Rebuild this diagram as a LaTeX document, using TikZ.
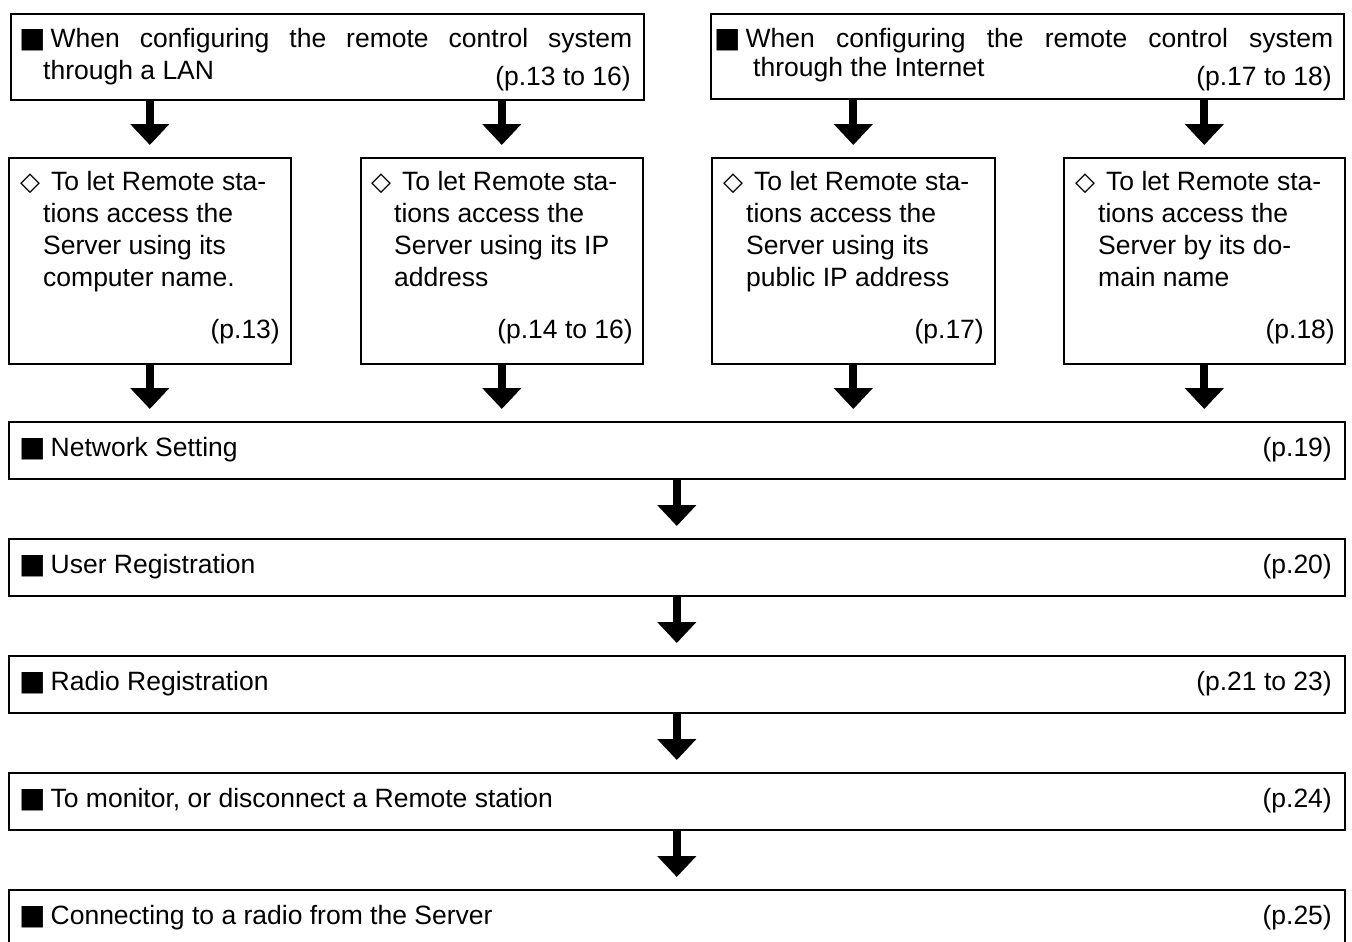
\documentclass[tikz,border=0pt]{standalone}
\usepackage{fontspec}
\setmainfont{Liberation Sans}
\newfontfamily\symf{DejaVu Sans}
\usetikzlibrary{arrows.meta}
\newcommand{\bsq}{{\symf\fontsize{28pt}{28pt}\selectfont ■}}
\newcommand{\wdia}{{\symf\bfseries\fontsize{26pt}{26pt}\selectfont ◇}}
\begin{document}
\begin{tikzpicture}[x=1pt,y=-1pt,
 box/.style={draw, line width=1.6pt, inner sep=0pt, anchor=north west},
 txt/.style={anchor=base west, inner sep=0pt, font=\fontsize{26.5pt}{32pt}\selectfont, align=left},
 pg/.style={anchor=base east, inner sep=0pt, font=\fontsize{26.5pt}{32pt}\selectfont},
 bigarrow/.style={line width=8pt, -{Triangle[width=38pt,length=21pt]}, shorten >=12pt}]
\useasboundingbox (0,0) rectangle (1352,942);
% top boxes
\node[box, minimum width=633pt, minimum height=86pt] (t1) at (10,13) {};
\node[box, minimum width=633pt, minimum height=85pt] (t2) at (710,13) {};
% second row
\node[box, minimum width=282pt, minimum height=206pt] (b1) at (8,157) {};
\node[box, minimum width=282pt, minimum height=206pt] (b2) at (360,157) {};
\node[box, minimum width=283pt, minimum height=206pt] (b3) at (711,157) {};
\node[box, minimum width=281pt, minimum height=206pt] (b4) at (1063,157) {};
% wide boxes
\node[box, minimum width=1336pt, minimum height=57pt] (net) at (8,421) {};
\node[box, minimum width=1336pt, minimum height=57pt] (usr) at (8,538) {};
\node[box, minimum width=1336pt, minimum height=57pt] (rad) at (8,655) {};
\node[box, minimum width=1336pt, minimum height=57pt] (mon) at (8,772) {};
\node[box, minimum width=1336pt, minimum height=62pt] (con) at (8,889) {};
% top texts
\node[txt] (t1a) at (19,48) {\makebox[613pt][s]{\bsq\hspace{5pt}When configuring the remote control system}};
\node[txt] (t1b) at (43,80) {through a LAN};
\node[pg] (t1p) at (631,85) {(p.13 to 16)};
\node[txt] (t2a) at (714,48) {\makebox[619pt][s]{\bsq\hspace{5pt}When configuring the remote control system}};
\node[txt] (t2b) at (753,77) {through the Internet};
\node[pg] (t2p) at (1332,85) {(p.17 to 18)};
% second row texts
\node[txt] (d1) at (20,190) {\wdia};
\node[txt] (x1) at (43,286) {\hspace*{8pt}To let Remote sta-\\tions access the\\Server using its\\computer name.};
\node[pg] (p1) at (280,338) {(p.13)};
\node[txt] (d2) at (371,190) {\wdia};
\node[txt] (x2) at (394,286) {\hspace*{8pt}To let Remote sta-\\tions access the\\Server using its IP\\address};
\node[pg] (p2) at (633,338) {(p.14 to 16)};
\node[txt] (d3) at (723,190) {\wdia};
\node[txt] (x3) at (746,286) {\hspace*{8pt}To let Remote sta-\\tions access the\\Server using its\\public IP address};
\node[pg] (p3) at (984,338) {(p.17)};
\node[txt] (d4) at (1075,190) {\wdia};
\node[txt] (x4) at (1098,286) {\hspace*{8pt}To let Remote sta-\\tions access the\\Server by its do-\\main name};
\node[pg] (p4) at (1335,338) {(p.18)};
% wide texts
\node[txt] (n1) at (19,456) {\bsq\hspace{5pt}Network Setting};
\node[pg] (n2) at (1332,456) {(p.19)};
\node[txt] (u1) at (19,573) {\bsq\hspace{5pt}User Registration};
\node[pg] (u2) at (1332,573) {(p.20)};
\node[txt] (r1) at (19,690) {\bsq\hspace{5pt}Radio Registration};
\node[pg] (r2) at (1332,690) {(p.21 to 23)};
\node[txt] (m1) at (19,807) {\bsq\hspace{5pt}To monitor, or disconnect a Remote station};
\node[pg] (m2) at (1332,807) {(p.24)};
\node[txt] (c1) at (19,924) {\bsq\hspace{5pt}Connecting to a radio from the Server};
\node[pg] (c2) at (1332,924) {(p.25)};
% arrows
\draw[bigarrow] (b1.north |- t1.south) -- (b1.north);
\draw[bigarrow] (b2.north |- t1.south) -- (b2.north);
\draw[bigarrow] (b3.north |- t2.south) -- (b3.north);
\draw[bigarrow] (b4.north |- t2.south) -- (b4.north);
\draw[bigarrow] (b1.south) -- (b1.south |- net.north);
\draw[bigarrow] (b2.south) -- (b2.south |- net.north);
\draw[bigarrow] (b3.south) -- (b3.south |- net.north);
\draw[bigarrow] (b4.south) -- (b4.south |- net.north);
\draw[bigarrow] (net.south) -- (usr.north);
\draw[bigarrow] (usr.south) -- (rad.north);
\draw[bigarrow] (rad.south) -- (mon.north);
\draw[bigarrow] (mon.south) -- (con.north);
\end{tikzpicture}
\end{document}
